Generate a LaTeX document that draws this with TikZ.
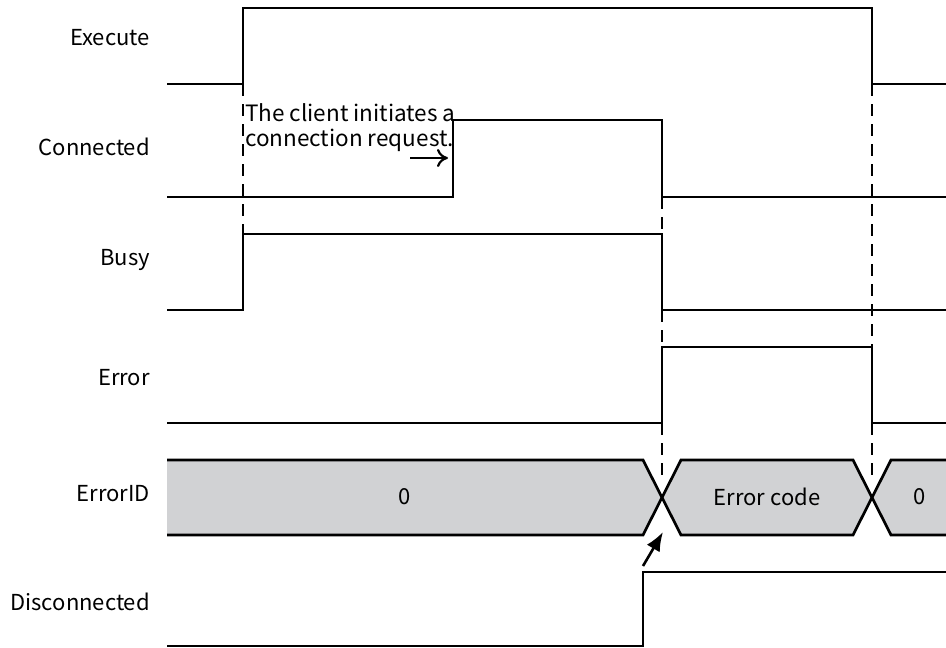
\documentclass[tikz,border=0pt]{standalone}
\usepackage{fontspec}
\setmainfont{Noto Sans CJK SC}
\usetikzlibrary{arrows.meta}
\definecolor{busgray}{RGB}{209,210,212}
\tikzset{
  wave/.style={line width=2.7pt},
  guide/.style={line width=1.7pt, dash pattern=on 12pt off 8pt},
  signame/.style={anchor=east, inner sep=0pt, font=\fontsize{22}{26}\selectfont},
  bustext/.style={inner sep=0pt, font=\fontsize{22}{26}\selectfont},
}
\begin{document}
\begin{tikzpicture}[x=1pt,y=-1pt]
  \useasboundingbox (0,0) rectangle (946,648);
  % Signal names
  \node[signame] (execute) at (150,38) {Execute};
  \node[signame] (connected) at (150,147) {Connected};
  \node[signame] (busy) at (150,260) {Busy};
  \node[signame] (error) at (150,378) {Error};
  \node[signame] (errorid) at (150,494) {ErrorID};
  \node[signame] (disconnected) at (150,602) {Disconnected};
  % ErrorID bus fill
  \fill[busgray] (167,460) -- (643,460) -- (662,497.5) -- (643,535) -- (167,535) -- cycle;
  \fill[busgray] (681,460) -- (853,460) -- (872,497.5) -- (853,535) -- (681,535) -- (662,497.5) -- cycle;
  \fill[busgray] (891,460) -- (946,460) -- (946,535) -- (891,535) -- (872,497.5) -- cycle;
  % Guide lines
  \draw[guide] (243,84) -- (243,234);
  \draw[guide] (662,197) -- (662,234);
  \draw[guide] (662,310) -- (662,347);
  \draw[guide] (662,423) -- (662,478);
  \draw[guide] (872,84) -- (872,347);
  \draw[guide] (872,423) -- (872,478);
  % Execute
  \draw[wave] (167,84) -- (243,84) -- (243,8) -- (872,8) -- (872,84) -- (946,84);
  % Connected
  \draw[wave] (167,197) -- (453,197) -- (453,120) -- (662,120) -- (662,197) -- (946,197);
  % Busy
  \draw[wave] (167,310) -- (243,310) -- (243,234) -- (662,234) -- (662,310) -- (946,310);
  % Error
  \draw[wave] (167,423) -- (662,423) -- (662,347) -- (872,347) -- (872,423) -- (946,423);
  % ErrorID bus
  \draw[wave] (167,460) -- (643,460) -- (681,535) -- (853,535) -- (891,460) -- (946,460);
  \draw[wave] (167,535) -- (643,535) -- (681,460) -- (853,460) -- (891,535) -- (946,535);
  \node[bustext] (idzero) at (405,497) {0};
  \node[bustext] (idcode) at (767,497) {Error code};
  \node[bustext] (idzerob) at (920,497) {0};
  % Disconnected
  \draw[wave] (167,646) -- (643,646) -- (643,572) -- (946,572);
  % Annotations
  \node[anchor=north west, inner sep=0pt, align=left,
        font=\fontsize{22.5}{24}\selectfont] (request) at (245,103)
        {The client initiates a\\[1pt]connection request.};
  \coordinate (reqtail) at (410,158);
  \coordinate (reqhead) at (448,158);
  \draw[line width=2.2pt, -{To[length=11pt,width=18pt]}] (reqtail) -- (reqhead);
  \coordinate (disrise) at (643,566);
  \coordinate (xcross) at (663,532);
  \draw[line width=2.6pt, -{Latex[length=19pt,width=15pt]}] (disrise) -- (xcross);
\end{tikzpicture}
\end{document}
